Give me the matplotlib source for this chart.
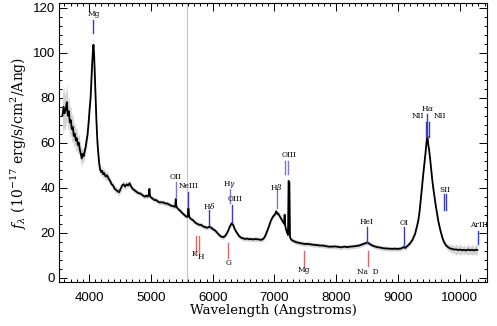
import numpy as np
import matplotlib
matplotlib.use("Agg")
import matplotlib.pyplot as plt
from matplotlib.ticker import MultipleLocator

# ---------------- data ----------------
wave = [3568, 3587, 3604, 3623, 3639, 3655, 3672, 3688, 3704, 3720, 3736, 3752, 3769, 3785,
        3801, 3817, 3833, 3849, 3866, 3882, 3895, 3911, 3927, 3943, 3960, 3976, 3992, 4008,
        4024, 4037, 4049, 4060, 4070, 4081, 4092, 4105, 4118, 4133, 4146, 4162, 4178, 4194,
        4210, 4227, 4243, 4267, 4291, 4316, 4340, 4364, 4388, 4413, 4437, 4461, 4485, 4510,
        4534, 4558, 4582, 4607, 4631, 4655, 4680, 4704, 4728, 4752, 4777, 4801, 4825, 4849,
        4874, 4898, 4922, 4946, 4966, 4976, 4987, 5011, 5036, 5060, 5084, 5108, 5133, 5165,
        5197, 5230, 5262, 5294, 5327, 5359, 5392, 5403, 5413, 5440, 5472, 5505, 5537, 5569,
        5594, 5607, 5621, 5642, 5667, 5691, 5715, 5747, 5780, 5812, 5844, 5877, 5909, 5941,
        5974, 6006, 6039, 6071, 6103, 6136, 6168, 6200, 6224, 6249, 6273, 6297, 6313, 6330,
        6354, 6378, 6402, 6427, 6459, 6492, 6524, 6556, 6589, 6621, 6653, 6686, 6718, 6750,
        6783, 6815, 6839, 6864, 6888, 6912, 6936, 6961, 6985, 7009, 7028, 7041, 7057, 7074,
        7090, 7106, 7122, 7138, 7155, 7164, 7174, 7187, 7203, 7219, 7228, 7241, 7251, 7268,
        7292, 7317, 7349, 7397, 7446, 7495, 7543, 7592, 7641, 7689, 7738, 7786, 7835, 7883,
        7932, 7980, 8029, 8078, 8126, 8175, 8223, 8272, 8320, 8369, 8418, 8466, 8498, 8531,
        8563, 8612, 8660, 8709, 8757, 8806, 8854, 8903, 8951, 9000, 9049, 9089, 9113, 9154,
        9194, 9235, 9275, 9307, 9328, 9348, 9367, 9388, 9409, 9429, 9448, 9461, 9474, 9489,
        9501, 9518, 9534, 9553, 9571, 9591, 9610, 9631, 9652, 9672, 9696, 9720, 9744, 9777,
        9809, 9841, 9874, 9906, 9939, 9971, 10003, 10036, 10068, 10101, 10133, 10165, 10198,
        10230, 10262, 10283]
flux = [72, 76, 73, 75, 78, 72, 74, 69, 70, 66, 67, 63, 64, 61,
        62, 59, 60, 57, 55, 53, 55, 54, 56, 58, 61, 64, 69, 75,
        80, 88, 95, 100, 103.5, 99, 90, 80, 70, 61, 56, 51, 48, 47,
        47.5, 46, 46.5, 45, 45.5, 44, 43, 41.5, 41, 39.5, 39, 38.5, 38, 39.5,
        41, 41.5, 40.5, 41.5, 41, 42, 40.5, 39.5, 39, 38.5, 38, 37.5, 37.5, 37,
        36.5, 36, 36.5, 36, 37, 39.5, 36, 35.5, 35, 34.5, 34.5, 34, 33.5, 33.5,
        33.5, 33, 33, 32.5, 32, 31.8, 31.5, 35, 31.5, 30.5, 29.8, 28.8, 28, 27.2,
        27, 30.8, 27, 26.2, 25.8, 25.3, 24.5, 24, 23.5, 23.5, 22.8, 22.5, 22.2, 22.6,
        22.3, 21.5, 21, 20, 19, 18.3, 18, 18.5, 19.5, 20.8, 22.5, 23.8, 24.3, 23.5,
        21.8, 20.5, 19.5, 18.5, 17.8, 17.5, 17.2, 17.4, 17.1, 17.2, 17.0, 17.2, 17.1, 17.0,
        16.8, 17.2, 18.0, 19.5, 21.2, 23, 25, 26.5, 27.5, 28.2, 29.5, 28.5, 28.6, 27.8,
        27, 26.2, 25.5, 24.8, 24, 28, 23, 21.5, 20, 19, 43, 42.5, 18, 17,
        16.5, 16.2, 15.8, 15.5, 15.2, 15, 15, 14.8, 14.6, 14.5, 14.3, 14.3, 14.0, 13.8,
        13.8, 13.9, 13.7, 13.5, 13.8, 13.6, 13.8, 13.9, 14.1, 14.3, 14.8, 15.3, 15.6, 15.2,
        14.6, 14.0, 13.6, 13.4, 13.1, 13.0, 12.9, 12.8, 12.9, 12.8, 13.0, 13.6, 13.2, 14.2,
        15.3, 17, 19.5, 23, 25.6, 29.5, 34.5, 40.5, 46.4, 51.5, 56.5, 60.5, 63, 59,
        57, 53, 48.5, 43.5, 39.5, 35.5, 32, 28.5, 25, 22.5, 19.8, 17.5, 15.8, 14.3,
        13.6, 13.0, 12.8, 12.5, 12.6, 12.3, 12.5, 12.2, 12.4, 12.1, 12.5, 12.2, 12.4,
        12.1, 12.5, 12.3]
err = [9, 9, 8, 8, 8, 7, 7, 7, 6, 6, 6, 5, 5, 5,
       5, 4, 4, 4, 4, 4, 3, 3, 3, 3, 3, 3, 3, 3,
       3, 3, 3, 3, 3, 3, 3, 3, 2, 2, 2, 2, 2, 2,
       2, 2, 2, 2, 2, 1.5, 1.5, 1.5, 1.5, 1.5, 1.5, 1.5, 1.5, 1.5,
       1.5, 1.5, 1.5, 1.2, 1.2, 1.2, 1.2, 1.2, 1.2, 1.2, 1, 1, 1, 1,
       1, 1, 1, 1, 1, 1, 1, 1, 1, 1, 1, 1, 1, 1,
       1, 1, 1, 1, 1, 1, 1, 1, 1, 1, 1, 1, 1, 1,
       1, 1, 1, 1, 1, 1, 1, 1, 1, 1, 1, 1, 1, 1,
       1, 1, 1, 1, 1, 1, 1, 1, 1, 1, 1, 1, 1, 1,
       1, 1, 1, 1, 1, 1, 1, 1, 1, 1, 1, 1, 1, 1,
       1, 1, 1, 1, 1, 1, 1, 1, 1, 1, 1, 1, 1, 1,
       1, 1, 1, 1, 1, 1, 1, 1, 1, 1, 1, 1, 1, 1,
       1, 1, 1, 1, 1, 1, 1, 1, 1, 1, 1, 1, 1, 1,
       1, 1, 1, 1, 1, 1, 1, 1, 1, 1, 1, 1, 1, 1,
       1, 1, 1, 1, 1, 1, 1, 1, 1, 1, 1, 1, 1, 1,
       1, 1, 1, 1, 1, 1, 1, 1, 1, 1, 1, 1, 1, 1,
       1, 1, 1, 1, 1, 1, 1, 1, 1, 1, 1, 1, 1, 1.2,
       1.5, 1.5, 2, 1.5, 2.5, 1.5, 2.5, 1.5, 2, 1.5, 2.5, 1.5, 2.5,
       1.5, 2.5, 2]

sky_line = 5577

# emission line markers (blue)
em_names = ["Mg", "OII", "NeIII", r"H$\delta$", r"H$\gamma$", "OIII", r"H$\beta$",
            "OIII_a", "OIII_b", "HeI", "OI", "NII_a", r"H$\alpha$", "NII_b", "SII_a", "SII_b", "ArIII"]
em_wave = [4070, 5403, 5607, 5947, 6282, 6319, 7033, 7170, 7224, 8492, 9100,
           9453, 9474, 9497, 9741, 9770, 10297]
# absorption line markers (red)
ab_names = ["K", "H", "G", "Mg", "Na D"]
ab_wave = [5736, 5780, 6249, 7474, 8511]

# ---------------- figure ----------------
plt.rcParams["mathtext.fontset"] = "dejavuserif"
fig = plt.figure(figsize=(4.97, 3.26), dpi=100)
ax = fig.add_axes([0.119, 0.135, 0.861, 0.856])

w = np.array(wave, float)
f = np.array(flux, float)
e = np.array(err, float)

ax.axvline(sky_line, color="#c8c8c8", lw=0.9, zorder=1)
ax.fill_between(w, f - e, f + e, color="#d4d4d4", lw=0, zorder=2)
ax.plot(w, f, color="black", lw=1.3, zorder=3)

blue = "#3a3abf"
lblue = "#7a7ad6"
red = "#e06565"
lab_kw = dict(fontsize=5.3, family="DejaVu Serif", ha="center", va="center", zorder=5)

em_seg = {"Mg": (108.6, 114.5), "OII": (35.4, 42.7), "NeIII": (31.6, 38.2),
          r"H$\delta$": (23.4, 30.1), r"H$\gamma$": (33.1, 39.3), "OIII": (24.2, 32.3),
          r"H$\beta$": (30.8, 38.2), "OIII_a": (46, 52), "OIII_b": (46, 52),
          "HeI": (15.3, 22.7), "OI": (14.1, 22.7), "NII_a": (62.7, 69.3),
          r"H$\alpha$": (62.7, 72.8), "NII_b": (62.7, 69.3), "SII_a": (30.1, 37.2),
          "SII_b": (30.1, 37.2), "ArIII": (15, 20.9)}
em_col = {"Mg": blue, "OII": lblue, "NeIII": blue, r"H$\delta$": blue, r"H$\gamma$": lblue,
          "OIII": blue, r"H$\beta$": lblue, "OIII_a": lblue, "OIII_b": lblue, "HeI": blue,
          "OI": blue, "NII_a": blue, r"H$\alpha$": blue, "NII_b": blue, "SII_a": blue,
          "SII_b": blue, "ArIII": blue}
for name, lw_ in zip(em_names, em_wave):
    y0, y1 = em_seg[name]
    ax.plot([lw_, lw_], [y0, y1], color=em_col[name], lw=1.0, zorder=4)

em_labels = [("Mg", 4070, 117.2), ("OII", 5403, 44.9), ("NeIII", 5615, 40.8),
             (r"H$\delta$", 5947, 32.0), (r"H$\gamma$", 6270, 41.6), ("OIII", 6370, 35.0),
             (r"H$\beta$", 7033, 40.0), ("OIII", 7241, 54.5), ("HeI", 8492, 24.9),
             ("OI", 9100, 24.2), ("NII", 9325, 71.9), (r"H$\alpha$", 9474, 75.3),
             ("NII", 9675, 71.9), ("SII", 9755, 39.0), ("ArIII", 10316, 23.4)]
for t, x, y in em_labels:
    ax.text(x, y, t, **lab_kw)

for name, lw_ in zip(ab_names, ab_wave):
    ax.plot([lw_, lw_], [11.0, 18.5] if name in ("K", "H") else
            ([8.6, 15.3] if name == "G" else [5.2, 12.0]), color=red, lw=1.0, zorder=4)
ab_labels = [("K", 5700, 10.5), ("H", 5810, 9.3), ("G", 6249, 6.4), ("Mg", 7474, 3.4),
             ("Na  D", 8511, 2.7)]
for t, x, y in ab_labels:
    ax.text(x, y, t, **lab_kw)

ax.set_xlim(3515, 10440)
ax.set_ylim(-1.9, 122.1)
ax.xaxis.set_major_locator(MultipleLocator(1000))
ax.xaxis.set_minor_locator(MultipleLocator(100))
ax.yaxis.set_major_locator(MultipleLocator(20))
ax.yaxis.set_minor_locator(MultipleLocator(4))
ax.tick_params(which="both", direction="in", top=True, right=True, width=0.7)
ax.tick_params(which="major", length=5.5)
ax.tick_params(which="minor", length=2.5)
ax.tick_params(axis="x", which="major", pad=7)
ax.tick_params(axis="y", which="major", pad=3)
for lab in ax.get_xticklabels() + ax.get_yticklabels():
    lab.set_family("Liberation Sans")
    lab.set_fontsize(9.5)
for s in ax.spines.values():
    s.set_linewidth(0.8)

ax.set_xlabel("Wavelength (Angstroms)", family="DejaVu Serif", fontsize=9.6, labelpad=0)
ax.set_ylabel(r"$f_\lambda$ (10$^{-17}$ erg/s/cm$^2$/Ang)", family="DejaVu Serif",
              fontsize=10, labelpad=3)

fig.savefig("out.png", dpi=100)
